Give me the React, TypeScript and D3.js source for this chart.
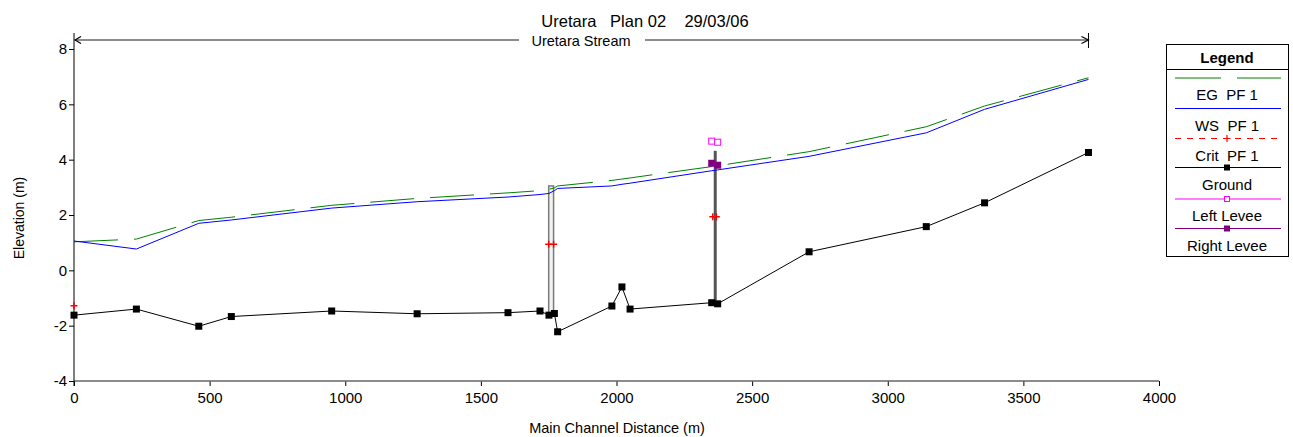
import React, { useEffect, useRef } from 'react';
import * as d3 from 'd3';

// river stations (m) and elevations (m)
const stations = [0, 230, 460, 580, 950, 1265, 1600, 1718, 1751, 1771, 1783, 1983, 2020, 2050, 2351, 2373, 2710, 3142, 3357, 3740];
const groundElev = [-1.62, -1.4, -2.02, -1.67, -1.47, -1.57, -1.53, -1.47, -1.62, -1.56, -2.22, -1.29, -0.6, -1.4, -1.17, -1.21, 0.67, 1.58, 2.44, 4.26];
const wsElev = [1.06, 0.77, 1.7, 1.82, 2.25, 2.48, 2.65, 2.74, 2.78, 2.88, 2.96, 3.05, 3.11, 3.15, 3.6, 3.63, 4.12, 4.97, 5.82, 6.9];
const egElev = [1.03, 1.13, 1.8, 1.92, 2.35, 2.6, 2.8, 2.88, 2.93, 2.98, 3.05, 3.25, 3.3, 3.34, 3.75, 3.78, 4.29, 5.19, 5.94, 6.96];

const critStations = [0, 1750, 1768, 2355, 2368];
const critElev = [-1.28, 0.94, 0.94, 1.94, 1.94];

const leveeStations = [2351, 2373];
const leftLeveeElev = [4.67, 4.63];
const rightLeveeElev = [3.87, 3.8];

// bridge decks
const bridgeLeft = [1750, 2364];
const bridgeRight = [1768, 2364];
const bridgeTop = [3.05, 4.32];
const bridgeBottom = [-1.6, -1.2];

const xTicks = [0, 500, 1000, 1500, 2000, 2500, 3000, 3500, 4000];
const yTicks = [-4, -2, 0, 2, 4, 6, 8];
const reachStart = 0;
const reachEnd = 3740;

const legendLabels = ['EG  PF 1', 'WS  PF 1', 'Crit  PF 1', 'Ground', 'Left Levee', 'Right Levee'];

const FONT = '"Liberation Sans", Arial, sans-serif';

const App = () => {
  const svgRef = useRef<SVGSVGElement>(null);

  useEffect(() => {
    const svg = d3.select(svgRef.current);
    svg.selectAll('*').remove();
    svg.style('font-family', FONT);

    const x = d3.scaleLinear().domain([0, 4000]).range([74, 1159]);
    const y = d3.scaleLinear().domain([-4, 8]).range([381, 49]);

    // Title
    svg.append('text')
      .attr('x', 645).attr('y', 27)
      .attr('text-anchor', 'middle')
      .style('font-size', '16.5px')
      .style('white-space', 'pre')
      .text('Uretara   Plan 02    29/03/06');

    // Reach arrow
    const ry = 40;
    svg.append('line')
      .attr('x1', x(reachStart) + 1).attr('x2', x(reachEnd))
      .attr('y1', ry).attr('y2', ry)
      .attr('stroke', '#666').attr('stroke-width', 1.5);
    svg.append('path')
      .attr('d', `M${x(reachStart) + 7},${ry - 3.5} L${x(reachStart) + 1},${ry} L${x(reachStart) + 7},${ry + 3.5}`)
      .attr('fill', 'none').attr('stroke', '#000').attr('stroke-width', 1.2);
    svg.append('path')
      .attr('d', `M${x(reachEnd) - 7},${ry - 3.5} L${x(reachEnd)},${ry} L${x(reachEnd) - 7},${ry + 3.5}`)
      .attr('fill', 'none').attr('stroke', '#000').attr('stroke-width', 1.2);
    svg.append('line')
      .attr('x1', x(reachEnd)).attr('x2', x(reachEnd))
      .attr('y1', 33).attr('y2', 48)
      .attr('stroke', '#000').attr('stroke-width', 1);
    svg.append('rect')
      .attr('x', 519).attr('y', 33).attr('width', 126).attr('height', 16)
      .attr('fill', '#fff');
    svg.append('text')
      .attr('x', 581).attr('y', 46)
      .attr('text-anchor', 'middle')
      .style('font-size', '14.5px')
      .text('Uretara Stream');

    // X axis
    const xAxisG = svg.append('g').attr('transform', `translate(0,${y(-4)})`);
    xAxisG.call(
      d3.axisBottom(x).tickValues(d3.range(250, 4000, 500)).tickSize(3).tickFormat(() => '')
    );
    xAxisG.call(
      d3.axisBottom(x).tickValues(xTicks).tickSize(5).tickPadding(6).tickFormat(d => String(d))
    );
    xAxisG.selectAll('.domain').remove();
    xAxisG.selectAll('text').style('font-size', '15px').style('font-family', FONT).attr('fill', '#000');
    svg.append('line')
      .attr('x1', x(0)).attr('x2', x(4000))
      .attr('y1', y(-4)).attr('y2', y(-4))
      .attr('stroke', '#666').attr('stroke-width', 1.5);

    // Y axis
    const yAxisG = svg.append('g').attr('transform', `translate(${x(0)},0)`);
    yAxisG.call(
      d3.axisLeft(y).tickValues(d3.range(-3.6, 8.5, 0.4).filter(v => Math.abs(v / 2 - Math.round(v / 2)) > 0.01)).tickSize(4).tickFormat(() => '')
    );
    yAxisG.call(
      d3.axisLeft(y).tickValues(yTicks).tickSize(5).tickPadding(2).tickFormat(d => String(d))
    );
    yAxisG.selectAll('.domain').remove();
    yAxisG.selectAll('text').style('font-size', '15px').style('font-family', FONT).attr('fill', '#000');
    svg.append('line')
      .attr('x1', x(0)).attr('x2', x(0))
      .attr('y1', y(-4) + 5).attr('y2', 33)
      .attr('stroke', '#000').attr('stroke-width', 1);

    // Axis titles
    svg.append('text')
      .attr('transform', `translate(24,218) rotate(-90)`)
      .attr('text-anchor', 'middle')
      .style('font-size', '14px')
      .text('Elevation (m)');
    svg.append('text')
      .attr('x', 617).attr('y', 433)
      .attr('text-anchor', 'middle')
      .style('font-size', '14.5px')
      .text('Main Channel Distance (m)');

    const plot = svg.append('g');

    // Bridges
    bridgeLeft.forEach((bl, i) => {
      const w = x(bridgeRight[i]) - x(bl);
      if (w > 1) {
        plot.append('rect')
          .attr('x', x(bl)).attr('y', y(bridgeTop[i]))
          .attr('width', w).attr('height', y(bridgeBottom[i]) - y(bridgeTop[i]))
          .attr('fill', '#f2f2f2').attr('stroke', '#7a7a7a').attr('stroke-width', 1.5);
      } else {
        plot.append('line')
          .attr('x1', x(bl)).attr('x2', x(bl))
          .attr('y1', y(bridgeTop[i])).attr('y2', y(bridgeBottom[i]))
          .attr('stroke', '#555').attr('stroke-width', 3);
      }
    });

    const line = d3.line<number>()
      .x((_, i) => x(stations[i]))
      .y(d => y(d));

    // EG
    plot.append('path')
      .attr('d', line(egElev))
      .attr('fill', 'none').attr('stroke', '#008000').attr('stroke-width', 1)
      .attr('stroke-dasharray', '44,16');

    // WS
    plot.append('path')
      .attr('d', line(wsElev))
      .attr('fill', 'none').attr('stroke', '#0000ff').attr('stroke-width', 1);

    // Ground
    plot.append('path')
      .attr('d', line(groundElev))
      .attr('fill', 'none').attr('stroke', '#000').attr('stroke-width', 1);
    plot.selectAll('.gnd')
      .data(groundElev)
      .enter()
      .append('rect')
      .attr('x', (_, i) => x(stations[i]) - 3.5)
      .attr('y', d => y(d) - 3.5)
      .attr('width', 7).attr('height', 7)
      .attr('fill', '#000');

    // Crit markers
    critElev.forEach((c, i) => {
      const cx = x(critStations[i]);
      const cy = y(c);
      plot.append('path')
        .attr('d', `M${cx - 3.5},${cy} H${cx + 3.5} M${cx},${cy - 3.5} V${cy + 3.5}`)
        .attr('stroke', '#ff0000').attr('stroke-width', 1.5);
    });

    // Levees
    leftLeveeElev.forEach((v, i) => {
      plot.append('rect')
        .attr('x', x(leveeStations[i]) - 3).attr('y', y(v) - 3)
        .attr('width', 6).attr('height', 6)
        .attr('fill', '#fff').attr('stroke', '#ff00ff').attr('stroke-width', 1);
    });
    rightLeveeElev.forEach((v, i) => {
      plot.append('rect')
        .attr('x', x(leveeStations[i]) - 3.5).attr('y', y(v) - 3.5)
        .attr('width', 7).attr('height', 7)
        .attr('fill', '#800080');
    });

    // Legend
    const lg = svg.append('g');
    const lx0 = 1166, lx1 = 1288, lcx = (lx0 + lx1) / 2;
    lg.append('rect')
      .attr('x', lx0 + 0.5).attr('y', 44.5).attr('width', lx1 - lx0).attr('height', 212)
      .attr('fill', '#fff').attr('stroke', '#000').attr('stroke-width', 1);
    lg.append('line')
      .attr('x1', lx0).attr('x2', lx1 + 1).attr('y1', 69.5).attr('y2', 69.5)
      .attr('stroke', '#000');
    lg.append('text')
      .attr('x', lcx).attr('y', 63)
      .attr('text-anchor', 'middle')
      .style('font-size', '15px').style('font-weight', 'bold')
      .text('Legend');

    const lineY = [78, 108.5, 138.5, 167.5, 199, 228.5];
    const colors = ['#008000', '#0000ff', '#ff0000', '#000', '#ff00ff', '#800080'];
    const dashes = ['46,16', null, '6,6', null, null, null];
    legendLabels.forEach((lab, i) => {
      const ly = lineY[i];
      const l = lg.append('line')
        .attr('x1', 1175).attr('x2', 1281).attr('y1', ly).attr('y2', ly)
        .attr('stroke', colors[i]).attr('stroke-width', 1);
      if (dashes[i]) l.attr('stroke-dasharray', dashes[i]);
      if (i === 2) {
        lg.append('path')
          .attr('d', `M${lcx - 3.5},${ly} H${lcx + 3.5} M${lcx},${ly - 3.5} V${ly + 3.5}`)
          .attr('stroke', '#ff0000').attr('stroke-width', 1.2);
      } else if (i === 3) {
        lg.append('rect').attr('x', lcx - 3).attr('y', ly - 3).attr('width', 6).attr('height', 6).attr('fill', '#000');
      } else if (i === 4) {
        lg.append('rect').attr('x', lcx - 2.5).attr('y', ly - 2.5).attr('width', 5).attr('height', 5)
          .attr('fill', '#fff').attr('stroke', '#ff00ff');
      } else if (i === 5) {
        lg.append('rect').attr('x', lcx - 3).attr('y', ly - 3).attr('width', 6).attr('height', 6).attr('fill', '#800080');
      }
      lg.append('text')
        .attr('x', lcx).attr('y', ly + 22)
        .attr('text-anchor', 'middle')
        .style('font-size', '15px')
        .style('white-space', 'pre')
        .text(lab);
    });
  }, []);

  return (
    <svg
      ref={svgRef}
      width={1293}
      height={437}
      style={{ position: 'absolute', left: 0, top: 0, display: 'block', background: '#fff' }}
    />
  );
};

export default App;
